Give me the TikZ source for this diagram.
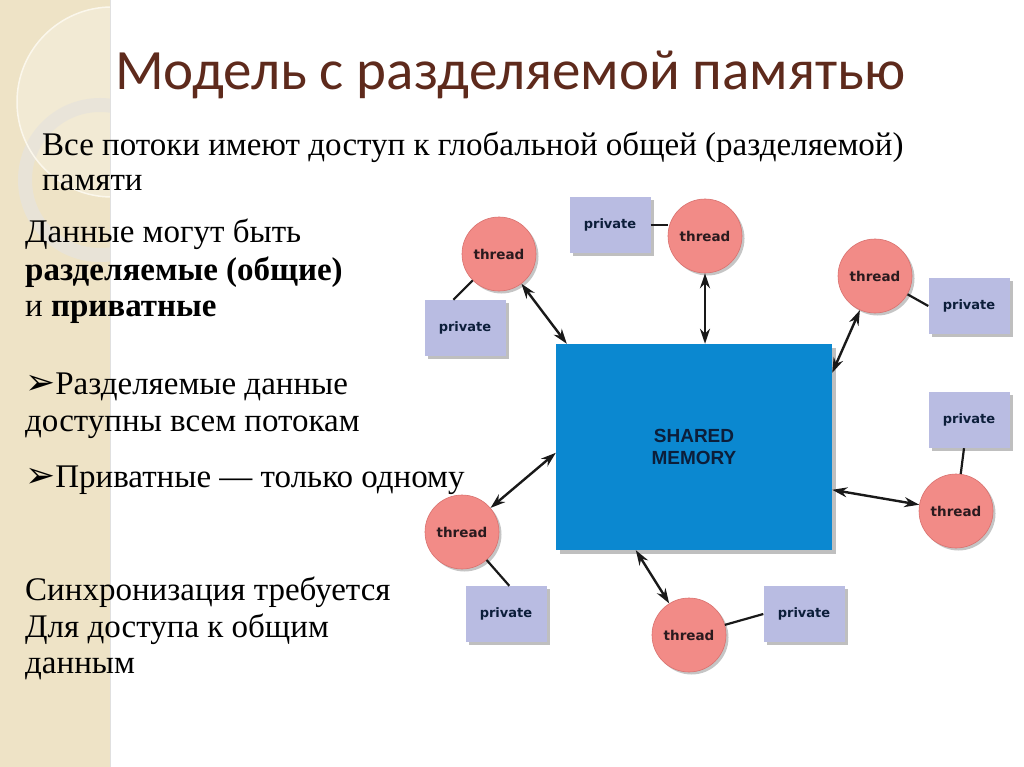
\documentclass[tikz,border=0pt]{standalone}
\usepackage{fontspec}
\setmainfont{Liberation Serif}
\newfontfamily\titlefont{Carlito}
\newfontfamily\dgfont{DejaVu Sans}
\newfontfamily\smfont{Liberation Sans}
\usetikzlibrary{shadows,calc,arrows.meta}
\definecolor{strip}{HTML}{EEE3C6}
\definecolor{cream}{HTML}{FBF7EC}
\definecolor{ringc}{HTML}{E8E4DA}
\definecolor{titlec}{HTML}{5E2A1C}
\definecolor{threadc}{HTML}{F28B87}
\definecolor{threadb}{HTML}{D9716E}
\definecolor{privc}{HTML}{B9BCE2}
\definecolor{smc}{HTML}{0B88D0}
\definecolor{smtext}{HTML}{0C1E3A}
\definecolor{dgtext}{HTML}{2A1A1E}
\tikzset{
  body/.style={anchor=base west, inner sep=0pt, font=\fontsize{33}{38}\selectfont},
  thread/.style={circle, minimum size=74pt, inner sep=0pt, fill=threadc, draw=threadb, line width=0.6pt,
    drop shadow={shadow xshift=2.5pt, shadow yshift=-2.5pt, opacity=0.45},
    font=\dgfont\bfseries\fontsize{13.5}{15}\selectfont, text=dgtext},
  privbox/.style={rectangle, minimum width=81pt, minimum height=56pt, inner sep=0pt, fill=privc,
    drop shadow={shadow xshift=3pt, shadow yshift=-3pt, opacity=0.5},
    font=\dgfont\bfseries\fontsize{13}{15}\selectfont, text=smtext},
  conn/.style={<->, >={Stealth[length=15pt,width=10pt]}, line width=2.4pt, black!90},
  link/.style={line width=2.2pt, black!90},
}
\newcommand{\arrbul}{{\dgfont\fontsize{36}{38}\selectfont ➢}}
\begin{document}
\begin{tikzpicture}[x=1pt,y=-1pt]
\useasboundingbox (0,0) rectangle (1024,767);
\fill[white] (0,0) rectangle (1024,767);
\fill[strip] (0,0) rectangle (110,767);
\begin{scope}
  \clip (0,0) rectangle (110,767);
  \fill[white, opacity=0.25] (112,102) circle (95);
  \draw[ringc, opacity=0.85, line width=14pt] (100,180) circle (75);
  \draw[cream, line width=1.5pt] (112,102) circle (95);
\end{scope}
\draw[black!12, line width=1pt] (110.5,0) -- (110.5,767);

% title
\node[anchor=base west, inner sep=0pt, text=titlec, font=\titlefont\fontsize{57}{60}\selectfont] (title) at (115,90) {Модель с разделяемой памятью};

% body text
\node[body] (l1) at (42,156) {Все потоки имеют доступ к глобальной общей (разделяемой)};
\node[body] (l2) at (42,191) {памяти};
\node[body] (l3) at (25,243) {Данные могут быть};
\node[body] (l4) at (25,280) {\bfseries разделяемые (общие)};
\node[body] (l5) at (25,316) {и \textbf{приватные}};
\node[body] (l6) at (25,394) {\arrbul Разделяемые данные};
\node[body] (l7) at (25,431) {доступны всем потокам};
\node[body] (l8) at (25,487) {\arrbul Приватные — только одному};
\node[body] (l9) at (25,600) {Синхронизация требуется};
\node[body] (l10) at (25,637) {Для доступа к общим};
\node[body] (l11) at (25,673) {данным};

% shared memory
\node[rectangle, minimum width=276pt, minimum height=206pt, inner sep=0pt, fill=smc,
  drop shadow={shadow xshift=4pt, shadow yshift=-4pt, opacity=0.5},
  align=center, text=smtext, font=\smfont\bfseries\fontsize{19}{22}\selectfont] (sm) at (694,447) {SHARED\\MEMORY};

% threads
\node[thread] (t1) at (499,254) {thread};
\node[thread] (t2) at (705,236) {thread};
\node[thread] (t3) at (875,276) {thread};
\node[thread] (t4) at (956,511) {thread};
\node[thread] (t5) at (689,635) {thread};
\node[thread] (t6) at (462,532) {thread};

% privates
\node[privbox] (p1) at (465,328) {private};
\node[privbox] (p2) at (610,225) {private};
\node[privbox] (p3) at (969,306) {private};
\node[privbox] (p4) at (969,420) {private};
\node[privbox] (p5) at (506,614) {private};
\node[privbox] (p6) at (804,614) {private};

% arrows
\draw[conn] (t1) -- ($(sm.north west)+(11,0)$);
\draw[conn] (t2) -- (t2 |- sm.north);
\draw[conn] (t3) -- ($(sm.north east)+(0,29)$);
\draw[conn] (t4) -- ($(sm.north east)+(0,146)$);
\draw[conn] (t5) -- ($(sm.south west)+(80,0)$);
\draw[conn] (t6) -- ($(sm.north west)+(0,109)$);

% links
\draw[link] (t1) -- ($(p1.north west)+(29,0)$);
\draw[link] (p2.east) -- (t2.west |- p2.east);
\draw[link] (t3) -- (p3.west);
\draw[link] ($(p4.south)+(-5,0)$) -- (t4);
\draw[link] (t6) -- ($(p5.north west)+(44,0)$);
\draw[link] (t5) -- (p6.west);
\end{tikzpicture}
\end{document}
